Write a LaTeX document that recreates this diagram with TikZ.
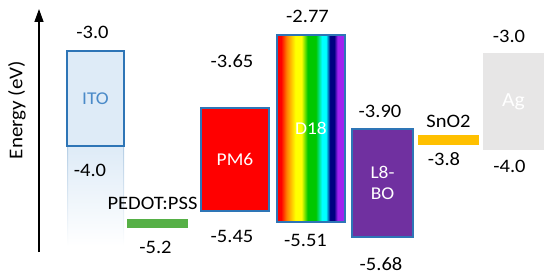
\documentclass[tikz,border=0pt]{standalone}
\usepackage{fontspec}
\setmainfont{Carlito}[FakeStretch=1.08]
\usetikzlibrary{arrows.meta}

% Rainbow fill for the D18 box (path is mapped onto 25bp..75bp)
\pgfdeclarehorizontalshading{rainbowfill}{100bp}{%
  rgb(0bp)=(1,0,0); rgb(25bp)=(1,0,0); rgb(28bp)=(1,0,0);
  rgb(32bp)=(1,0.5,0); rgb(38.5bp)=(1,1,0); rgb(43bp)=(1,1,0);
  rgb(47.5bp)=(0,0.78,0); rgb(53.5bp)=(0,0.78,0);
  rgb(58bp)=(0,1,1); rgb(61bp)=(0,1,1);
  rgb(64bp)=(0,0,0.5); rgb(67bp)=(0,0,0.5);
  rgb(69.5bp)=(0.63,0.13,0.94); rgb(75bp)=(0.63,0.13,0.94);
  rgb(100bp)=(0.63,0.13,0.94)}

\begin{document}
\begin{tikzpicture}[x=1pt, y=-1pt]

    % Colors
    \definecolor{itofill}{HTML}{DEEBF7}
    \definecolor{boxline}{HTML}{2E75B6}
    \definecolor{itotext}{HTML}{4A8AC8}
    \definecolor{pmred}{HTML}{FF0000}
    \definecolor{l8purple}{HTML}{7030A0}
    \definecolor{pedotgreen}{HTML}{56B046}
    \definecolor{snorange}{HTML}{FFC000}
    \definecolor{aggray}{HTML}{E7E6E6}

    % Canvas: 1 unit = 1 pt, y grows downwards (550 x 278)
    \useasboundingbox (0,0) rectangle (550,278);

    % Styles
    \tikzset{
        lvlbox/.style={draw=boxline, line width=1.2pt, inner sep=0pt,
            align=center, font=\fontsize{18}{21}\selectfont},
        lvlbar/.style={inner sep=0pt, minimum width=61pt, minimum height=9.5pt},
        val/.style={anchor=base, font=\fontsize{19}{22}\selectfont},
        axisarrow/.style={line width=1.3pt, -{Triangle[length=13pt,width=9pt]}}
    }

    % --- Energy axis ---
    \coordinate (ybot) at (39,252);
    \coordinate (ytop) at (39,9);
    \draw[axisarrow] (ybot) -- (ytop);
    \node[rotate=90, font=\fontsize{19.5}{22}\selectfont] (ylabel) at (17,110) {Energy (eV)};

    % --- ITO (with faded reflection below) ---
    \shade[top color=itofill, bottom color=white] (67.5,147) rectangle (123.5,246);
    \shade[top color=boxline!35, bottom color=white] (67,147) rectangle (68,246);
    \shade[top color=boxline!35, bottom color=white] (123,147) rectangle (124,246);
    \node[lvlbox, fill=itofill, text=itotext, minimum width=57pt, minimum height=95pt]
        (ito) at (95.5,98.5) {ITO};
    \node[val] (itohi) at (92.5,39) {-3.0};
    \node[val] (itolo) at (90,177) {-4.0};

    % --- PEDOT:PSS ---
    \node[lvlbar, fill=pedotgreen] (pedot) at (157.5,223.5) {};
    \node[val] (pedotname) at (152.5,210) {PEDOT:PSS};
    \node[val] (pedotlo) at (155.5,253) {-5.2};

    % --- PM6 ---
    \node[lvlbox, fill=pmred, text=white, minimum width=68pt, minimum height=103pt]
        (pm6) at (235,159.5) {PM6};
    \node[val] (pm6hi) at (232,68) {-3.65};
    \node[val] (pm6lo) at (232,242) {-5.45};

    % --- D18 ---
    \node[lvlbox, shading=rainbowfill, text=white, minimum width=68pt, minimum height=187pt]
        (d18) at (311,128.5) {D18};
    \node[val] (d18hi) at (307.5,23) {-2.77};
    \node[val] (d18lo) at (305.5,247) {-5.51};

    % --- L8-BO ---
    \node[lvlbox, fill=l8purple, text=white, minimum width=61pt, minimum height=108pt]
        (l8bo) at (382.5,183) {L8-\\BO};
    \node[val] (l8bohi) at (380,118) {-3.90};
    \node[val] (l8bolo) at (381,270) {-5.68};

    % --- SnO2 ---
    \node[lvlbar, fill=snorange] (sno) at (448.5,140) {};
    \node[val] (snoname) at (448.5,128) {SnO2};
    \node[val] (snolo) at (444,165) {-3.8};

    % --- Ag ---
    \node[lvlbox, draw=none, fill=aggray, text=white, minimum width=61pt, minimum height=97pt,
        font=\fontsize{20}{22}\selectfont]
        (ag) at (513.5,101.5) {Ag};
    \node[val] (aghi) at (509,43) {-3.0};
    \node[val] (aglo) at (509.5,173) {-4.0};

\end{tikzpicture}
\end{document}
